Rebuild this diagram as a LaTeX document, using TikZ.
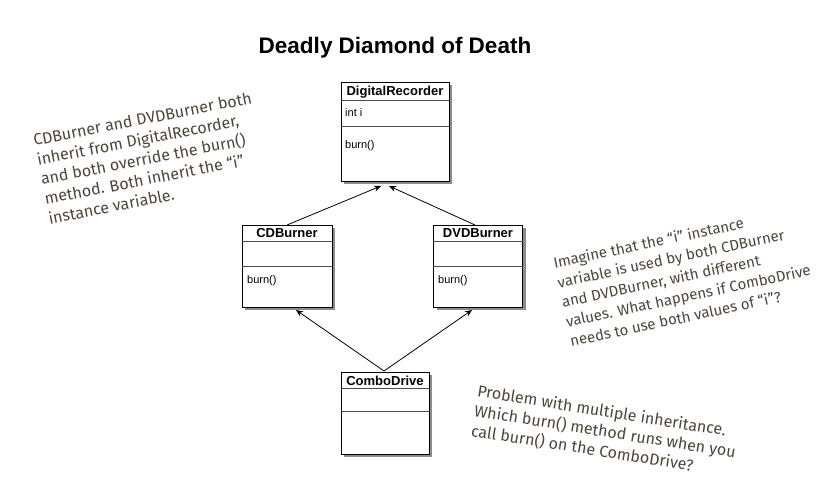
\documentclass[tikz,border=0pt]{standalone}
\usepackage{fontspec}
\setmainfont{Liberation Sans}
\newfontfamily\handfont{Fira Sans}
\usetikzlibrary{shadows,arrows.meta}
\definecolor{handcol}{RGB}{78,68,58}
\tikzset{
  classbox/.style={draw=black, line width=0.9pt, fill=white, rectangle, inner sep=0pt,
    drop shadow={shadow xshift=3pt, shadow yshift=-3pt, opacity=0.45, fill=black}},
  classname/.style={font=\bfseries\fontsize{13}{15}\selectfont, inner sep=0pt},
  member/.style={font=\fontsize{11}{13}\selectfont, inner sep=0pt, anchor=west},
  sepline/.style={line width=0.5pt, black!70},
  inh/.style={line width=0.8pt, -{Stealth[length=7pt,width=6pt]}},
  note/.style={font=\handfont\fontsize{16}{20}\selectfont, text=handcol, align=left, inner sep=0pt}
}
\begin{document}
\begin{tikzpicture}[x=1pt,y=-1pt]
\useasboundingbox (0,0) rectangle (838,502);
\node[font=\bfseries\fontsize{22.5}{25}\selectfont] (title) at (395,48) {Deadly Diamond of Death};

% DigitalRecorder
\node[classbox, minimum width=108pt, minimum height=99pt] (dr) at (395,131.5) {};
\node[classname] (drn) at (395,92) {DigitalRecorder};
\draw[sepline] ([yshift=-19pt]dr.north west) -- ([yshift=-19pt]dr.north east);
\draw[sepline] ([yshift=-45pt]dr.north west) -- ([yshift=-45pt]dr.north east);
\node[member] (dri) at (345,113) {int i};
\node[member] (drb) at (345,146) {burn()};

% CDBurner
\node[classbox, minimum width=90pt, minimum height=82pt] (cd) at (287,266) {};
\node[classname] (cdn) at (287,233.5) {CDBurner};
\draw[sepline] ([yshift=-17pt]cd.north west) -- ([yshift=-17pt]cd.north east);
\draw[sepline] ([yshift=-42pt]cd.north west) -- ([yshift=-42pt]cd.north east);
\node[member] (cdb) at (247,281) {burn()};

% DVDBurner
\node[classbox, minimum width=89pt, minimum height=82pt] (dvd) at (478,266) {};
\node[classname] (dvdn) at (478,233.5) {DVDBurner};
\draw[sepline] ([yshift=-17pt]dvd.north west) -- ([yshift=-17pt]dvd.north east);
\draw[sepline] ([yshift=-42pt]dvd.north west) -- ([yshift=-42pt]dvd.north east);
\node[member] (dvdb) at (438,281) {burn()};

% ComboDrive
\node[classbox, minimum width=88pt, minimum height=82pt] (cb) at (385,413) {};
\node[classname] (cbn) at (385,380.5) {ComboDrive};
\draw[sepline] ([yshift=-17pt]cb.north west) -- ([yshift=-17pt]cb.north east);
\draw[sepline] ([yshift=-40pt]cb.north west) -- ([yshift=-40pt]cb.north east);

% arrows
\coordinate (drl) at (381,186);
\coordinate (drr) at (389,186);
\coordinate (cdt) at (287,225);
\coordinate (dvdt) at (475,225);
\coordinate (cbt) at (384,371);
\coordinate (cdbt) at (296,310);
\coordinate (dvdbt) at (472,310);
\draw[inh] (cdt) -- (drl);
\draw[inh] (dvdt) -- (drr);
\draw[inh] (cbt) -- (cdbt);
\draw[inh] (cbt) -- (dvdbt);

% notes
\node[note, rotate=11] (n1) at (150,158) {CDBurner and DVDBurner both\\inherit from DigitalRecorder,\\and both override the burn()\\method. Both inherit the “i”\\instance variable.};
\node[note, rotate=12, font=\handfont\fontsize{15}{20}\selectfont] (n2) at (684,276) {Imagine that the “i” instance\\variable is used by both CDBurner\\and DVDBurner, with different\\values. What happens if ComboDrive\\needs to use both values of “i”?};
\node[note, rotate=-9] (n3) at (605,432) {Problem with multiple inheritance.\\Which burn() method runs when you\\call burn() on the ComboDrive?};
\end{tikzpicture}
\end{document}
